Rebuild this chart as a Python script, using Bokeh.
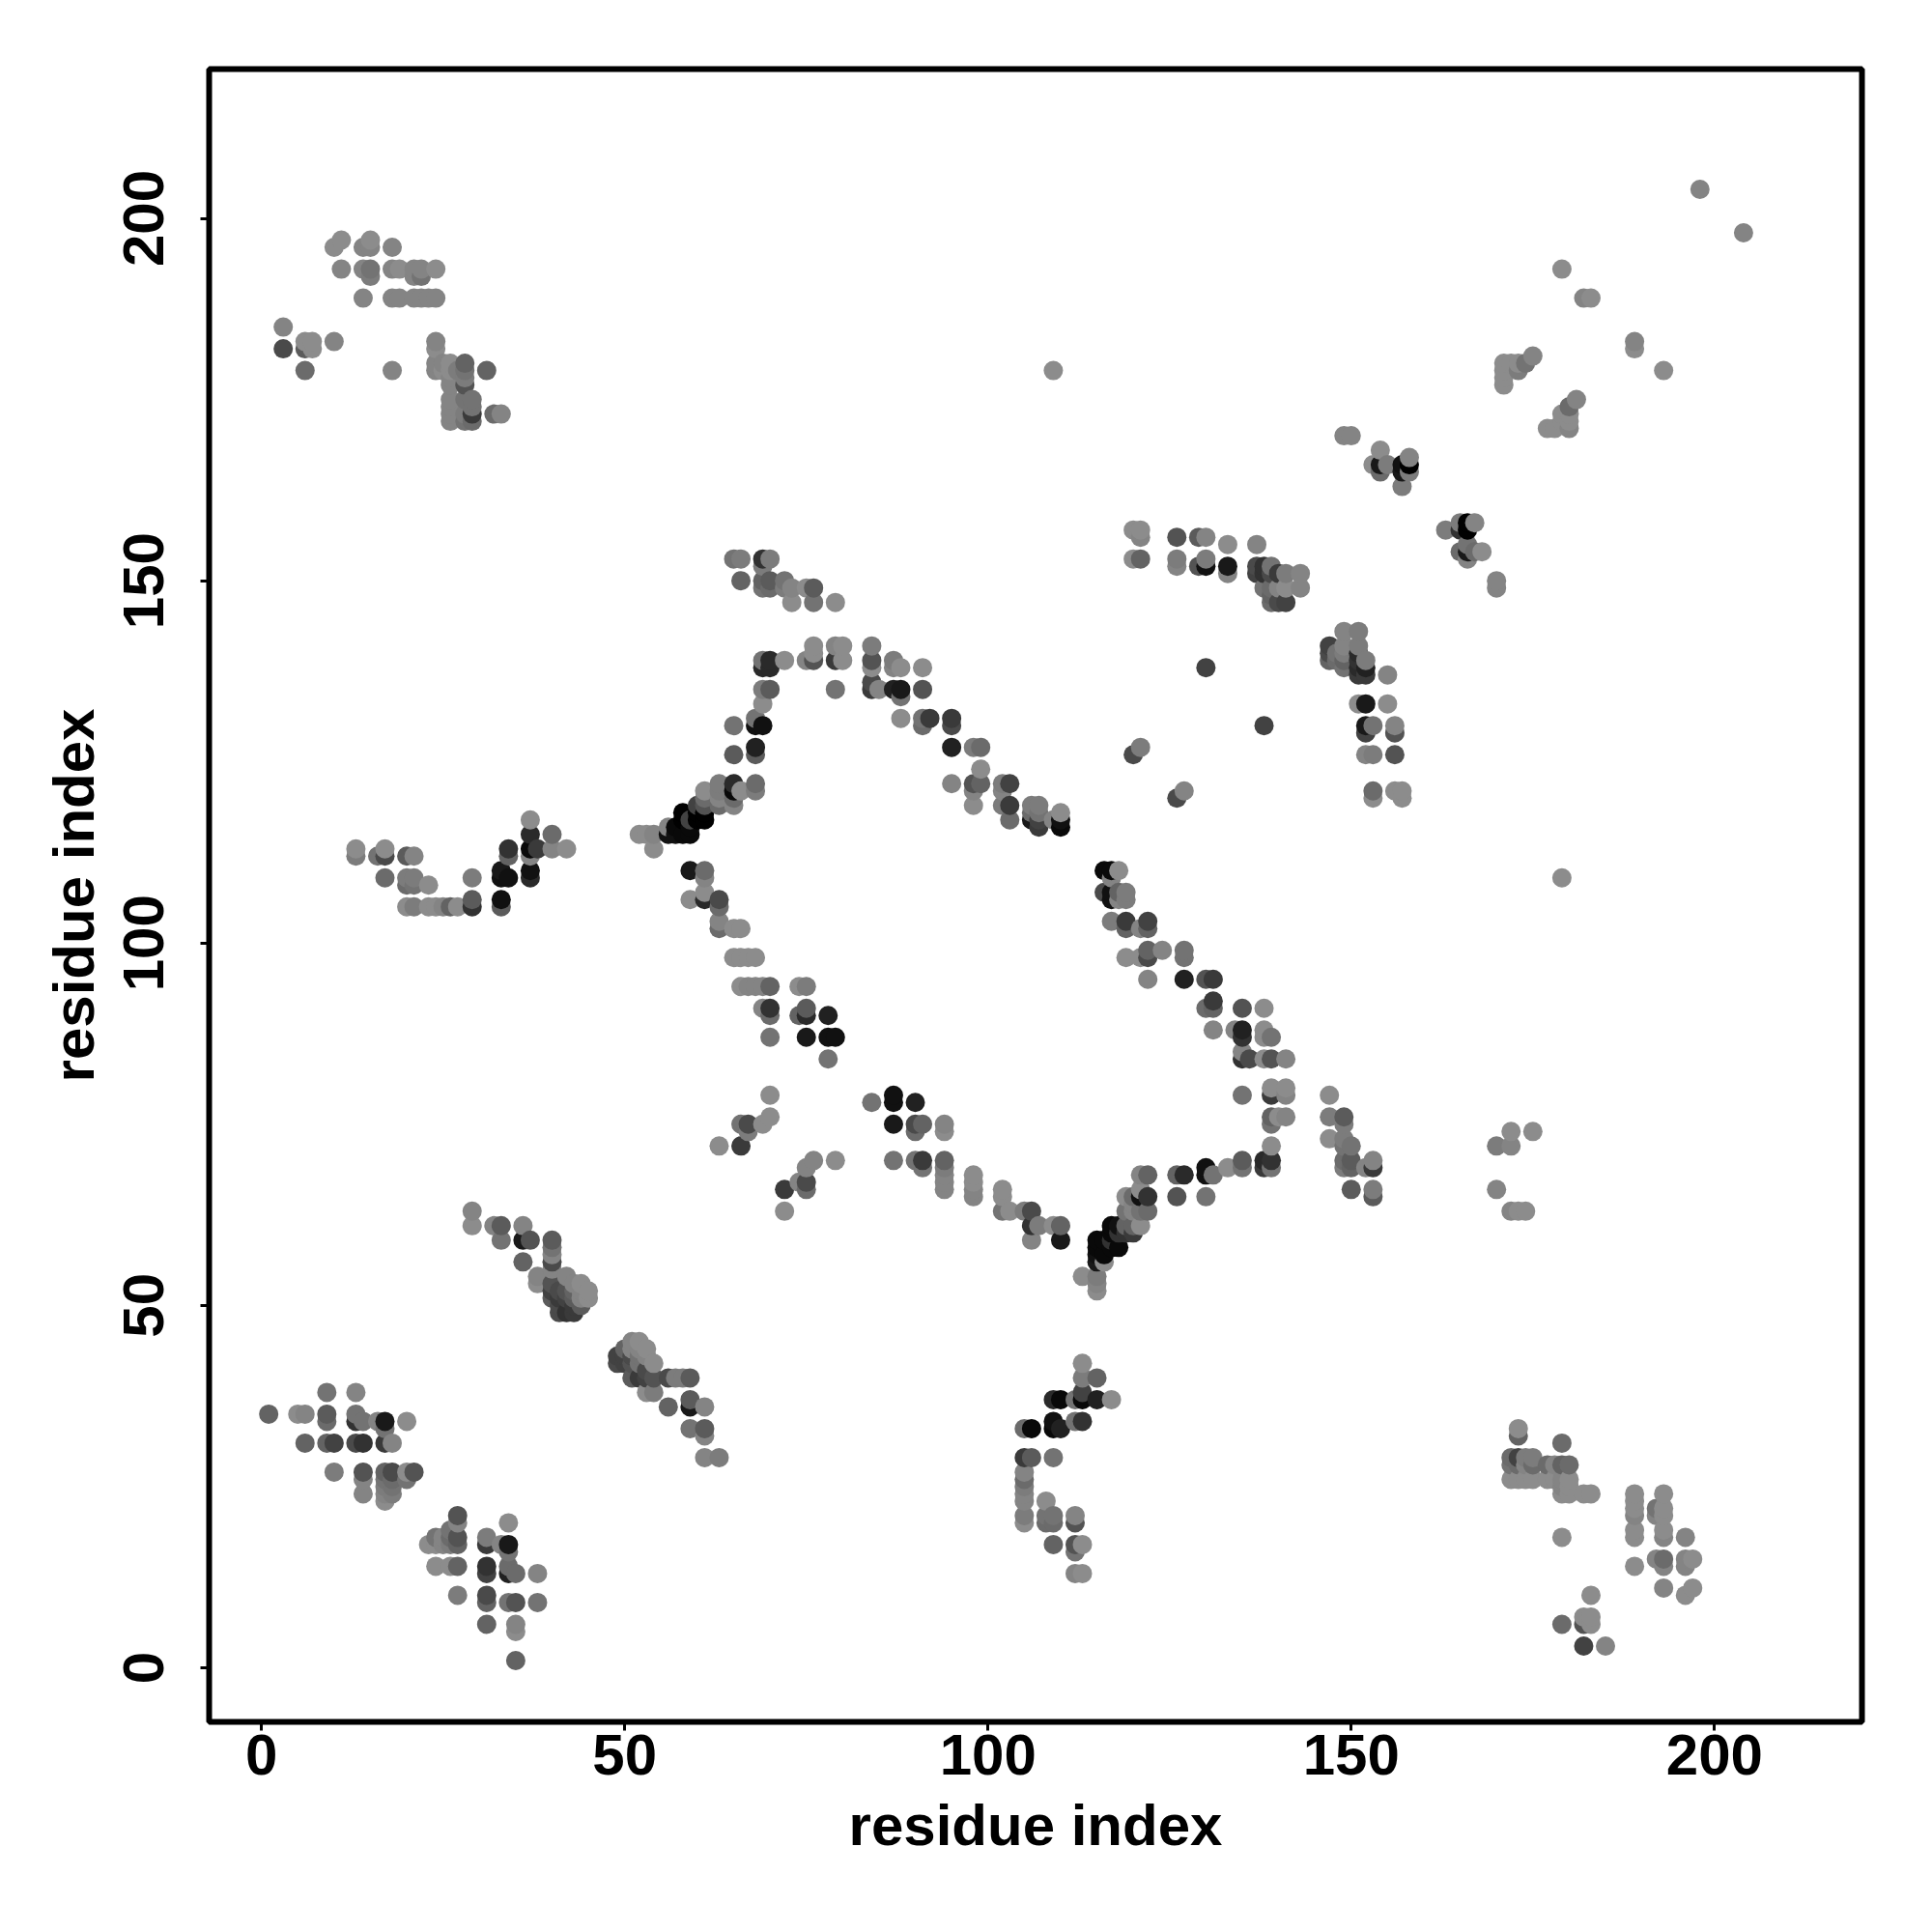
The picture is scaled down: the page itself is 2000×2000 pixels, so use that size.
from bokeh.plotting import figure
from bokeh.models import ColumnDataSource, FixedTicker
from bokeh.embed import file_html
from bokeh.resources import INLINE
import numpy as np

# contact map: residue i, residue j, contact strength level (0 weak .. 17 strong)
xa = [1,5,6,9,9,9,13,13,13,14,16,17,17,20,6,9,10,13,14,17,18,10,14,14,14,17,18,17,18,20,20,21,17,18,17,18,17]
ya = [35,35,35,38,35,34,38,35,34,34,34,34,33,34,31,31,31,31,31,31,31,27,27,26,24,27,27,26,26,27,26,27,25,25,24,24,23]
la = [5,0,1,3,6,4,1,3,11,3,1,14,3,0,5,5,9,8,11,10,1,2,7,1,1,5,8,3,4,0,3,7,2,3,1,2,0]

xb = [23,24,24,25,25,26,26,26,27,27,27,27,24,26,27,27,31,31,31,31,31,31,31,34,33,34,34,34,34,35,38,34,35,38,35,35,35]
yb = [17,18,17,18,17,19,18,17,21,20,18,17,14,14,14,10,18,17,14,13,10,9,6,20,17,17,16,14,13,13,13,9,9,9,6,5,1]
lb = [0,3,0,1,1,3,4,2,7,1,7,5,0,0,5,2,2,10,11,9,8,5,5,0,1,14,3,4,13,4,1,3,7,3,1,0,5]

xc = [29,29,32,33,33,36,36,37,36,40,40,40,40,40,40,40,40,38,38,42,43,44,45,45,44,43,42,43,42,43,41,41,44,42,41,43,44,41]
yc = [63,61,61,61,59,61,59,59,56,59,58,57,56,55,53,52,51,54,53,54,53,53,52,51,51,52,51,50,49,49,49,52,50,52,51,51,52,50]
lc = [1,0,1,6,3,1,14,7,5,6,3,1,8,1,7,9,6,1,0,1,1,0,0,0,1,5,9,10,11,10,8,8,6,7,10,6,1,8]

xd = [49,49,50,51,52,53,52,54,51,53,50,50,51,52,51,52,51,52,53,54,56,57,58,59,53,53,54,56,59,59,61,59,61,61,61,63]
yd = [43,42,44,45,45,44,44,42,44,43,43,42,42,42,43,43,40,40,40,40,40,40,40,40,41,38,38,36,37,36,36,33,33,32,29,29]
ld = [9,8,5,1,0,0,1,0,1,1,9,9,7,3,8,3,6,10,9,7,8,2,2,6,8,0,2,5,6,14,1,3,6,1,1,2]

xe = [70,70,69,67,66,67,63,66,72,72,75,75,74,75,76,79,84,87,87,90,87,90,90,91,94,94,87,90,91,91,94,94,94,94,94,98,98,98,98,102,102,102,103,105,106,106,107,106,109,110,110]
ye = [79,76,75,75,75,74,72,72,63,66,67,66,67,69,70,70,78,79,78,78,75,75,74,75,75,74,70,70,70,69,70,69,68,67,66,68,67,66,65,66,65,63,63,63,63,61,61,59,61,61,59]
le = [0,0,0,8,3,2,0,10,0,10,8,4,1,1,1,0,3,15,15,13,14,8,4,5,1,0,3,3,10,3,5,2,1,1,1,0,0,1,1,0,0,3,0,2,8,11,2,1,0,5,14]

xf = [113,115,115,115,115,115,115,115,116,116,116,117,117,117,117,118,118,118,119,120,121,120,119,122,121,120,119,120,119,120,122,121,121,121,122]
yf = [54,54,53,52,59,58,57,56,59,57,56,61,60,59,58,61,60,58,60,60,61,61,61,63,63,63,63,64,65,65,65,65,66,68,68]
lf = [0,2,1,0,16,16,15,14,16,16,0,16,16,11,16,15,11,16,11,10,0,5,5,4,3,1,3,1,0,4,11,15,0,1,5]

xg = [113,113,115,113,113,109,110,112,115,117,112,113,109,109,110,105,106,105,106,109,105,105,105,105,105,105,105,108,108,109,108,109,112,112,109,112,113,112,112,113]
yg = [42,40,40,38,37,37,37,37,37,37,34,34,34,33,33,33,33,29,29,29,27,26,25,24,23,21,20,23,21,21,20,20,21,20,17,17,17,16,13,13]
lg = [0,2,5,9,16,12,16,3,13,0,3,11,15,16,13,4,16,10,6,3,1,4,2,1,1,2,0,0,3,3,4,4,1,7,5,7,0,3,1,0]

xh = [173,173,172,172,172,173,173,173,174,174,174,175,175,175,177,177,178,178,179,179,180,179,180,179,180,179,180,182,183,179,189,189,189,189,189,189,189,193,192,192,193,193,193,193,196,192,193,193,196,196,197,193,196,197,183,179,182,183,182,183,182,185]
yh = [33,32,29,28,26,29,28,26,29,28,26,29,28,26,28,26,28,26,31,28,28,26,26,25,25,24,24,24,24,18,24,23,22,21,19,18,14,24,22,21,22,21,19,18,18,15,15,14,15,14,15,11,10,11,10,6,7,7,6,6,3,3]
lh = [0,5,4,3,0,9,4,0,2,1,0,2,4,0,4,0,1,0,4,5,4,1,0,1,0,0,0,0,0,0,0,0,0,1,0,0,0,0,3,1,0,0,0,1,1,1,4,1,1,1,0,1,0,0,0,4,0,0,7,0,9,1]

xi = [116,117,118,117,116,117,117,118,119,119,118,117,119,119,121,122,122,119,121,122,122,124,127,127,122,127,130,131,131,130,131,135,138,131,134,135,135,138,138,139,135,135,136,138,139,141,135,139,139,141,141,139,139,140,141,139]
yi = [110,110,110,109,107,107,106,107,107,106,106,103,103,102,102,103,102,98,98,99,98,99,99,98,95,95,95,95,92,91,91,91,91,88,88,88,87,88,87,87,85,84,84,84,84,84,79,80,79,80,79,76,75,76,76,72]
li = [16,16,0,1,8,15,15,5,2,2,1,2,10,5,1,9,5,0,0,5,8,1,3,3,1,13,7,10,10,4,5,7,0,1,1,13,11,0,0,3,1,11,8,0,7,1,3,0,10,0,1,5,3,0,1,0]

xj2 = [147,147,149,149,147,149,149,150,149,149,150,150,152,153,153,150,153,153,172,175,170,172,170,172,173,174,126,127,130,130,131,133,135,135,138,138,139,139,126,130]
yj2 = [79,76,76,75,73,73,72,72,70,69,70,69,69,70,69,66,66,65,74,74,72,72,66,63,63,63,68,68,69,68,68,69,70,69,70,69,70,69,65,65]
lj2 = [0,2,6,2,0,2,3,3,4,2,6,5,1,1,10,6,2,6,0,0,2,1,1,1,0,0,5,12,15,15,3,0,6,3,12,10,11,3,7,3]

xj = [13,13,16,17,17,20,21,17,20,21,20,21,23,20,21,23,24,25,26,27,29,29,29,33,33,34,34,34,33,33,37,37,37,37,37,37,38,40,40,42,52,53,54,54]
yj = [113,112,112,113,112,112,112,109,109,109,108,108,108,105,105,105,105,105,105,105,109,106,105,110,109,109,113,112,106,105,117,115,113,112,110,109,113,115,113,113,115,115,115,113]
lj = [0,2,3,0,8,6,1,4,2,2,4,3,0,0,2,0,0,1,5,0,2,6,11,14,15,15,11,5,15,6,0,12,16,1,15,12,10,4,1,0,0,0,1,0]

xk = [56,56,57,57,58,58,58,59,59,59,60,60,60,61,61,61,61,61,63,63,63,63,65,65,65,65,66,68,68]
yk = [116,115,116,115,118,117,115,116,115,117,119,118,117,119,118,117,121,120,122,121,120,119,122,121,120,119,121,122,121]
lk = [1,15,16,15,17,17,16,16,16,9,9,17,17,7,17,17,0,4,2,2,1,4,12,16,4,1,0,4,2]

xk2 = [59,61,61,59,61,61,63,63,63,63,65,66,65,66,67,68,66,67,68,69,70,74,75,69,70,70,70,74,75,75,75,78,78,79,78]
yk2 = [110,110,109,106,107,106,106,105,103,102,102,102,98,98,98,98,94,94,94,94,94,94,94,91,91,90,87,90,91,90,87,90,87,87,84]
lk2 = [14,4,1,0,0,12,8,4,1,4,0,0,0,0,0,0,0,1,1,1,5,0,2,1,11,4,3,5,6,12,14,13,15,15,3]

xl = [65,66,69,70,69,66,69,70,69,70,72,72,73,75,76,73,76,79,120,121,121,120,121]
yl = [153,153,153,153,152,150,150,150,149,149,150,149,149,149,149,147,147,147,157,157,156,153,153]
ll = [3,2,11,2,2,5,5,6,3,4,3,2,1,0,6,0,3,0,0,0,1,0,5]

xl2 = [76,79,80,84,69,70,72,75,76,76,79,80,84,84,87,87,88,91,69,70,69,70,79,84,84,85,87,88,88,91,69,68,68,69,65,68,68,65]
yl2 = [141,141,141,141,139,139,139,139,139,140,139,139,139,138,139,138,138,138,138,138,135,135,135,136,135,135,135,135,134,135,133,131,130,130,130,127,126,126]
ll2 = [0,1,0,2,3,12,0,1,7,0,10,0,7,0,2,1,0,0,12,12,2,6,3,8,10,1,13,14,3,7,0,3,15,15,3,13,6,6]

xl3 = [88,91,91,92,95,95,95,98,99,99,95,98,99,98,98,102,103,102,102,103,103,106,107,106,107,107,107,106,109,110,110,110]
yl3 = [131,131,130,131,131,130,127,127,127,124,122,122,122,121,119,122,122,121,119,119,117,119,119,117,118,117,116,118,117,118,117,116]
ll3 = [0,3,4,10,10,8,13,2,4,0,1,7,5,1,0,2,9,1,2,10,4,2,2,14,3,9,10,4,1,0,15,16]

xm = [126,129,130,133,137,126,126,129,130,130,133,133,137,137,138,138,139,139,138,139,140,141,143,140,141,143,139,140,141,139]
ym = [156,156,156,155,155,153,152,152,153,152,152,151,152,151,152,151,152,151,149,149,151,151,151,149,149,149,147,147,147,148]
lm = [7,6,1,0,1,2,1,7,2,15,14,1,8,9,11,11,3,8,3,4,10,2,1,1,0,1,4,8,9,5]

xm2 = [130,138,120,121,126,127,153,153,156,157,157,152,153,156,152,152,153,156,156,151,152,155,155]
ym2 = [138,130,126,127,120,121,121,120,121,121,120,126,126,126,130,129,130,130,129,133,133,133,137]
lm2 = [9,9,8,2,8,1,4,0,0,0,0,1,2,7,14,9,3,1,7,0,14,0,1]

xm3 = [149,151,151,149,147,147,147,149,149,149,148,148,151,151,151,151,152,152,152]
ym3 = [143,143,141,141,141,140,139,140,139,138,140,139,140,139,138,137,139,138,137]
lm3 = [1,2,2,1,9,8,5,2,5,3,3,4,12,11,12,10,2,13,10]

xn = [163,165,165,166,166,167,165,166,166,166,167,168,170,170,154,153,154,154,155,157,157,158,158,158,157,149,150]
yn = [157,158,157,158,157,158,154,155,154,153,154,154,150,149,168,166,166,165,166,166,165,167,165,166,163,170,170]
ln = [2,2,11,17,17,1,4,3,14,1,4,0,1,1,0,0,14,4,2,15,14,1,2,17,2,1,1]

xn2 = [198,204,179,182,183,189,189,193,109,179,171,172,173,171,173,171,171,174,175,181,180,179,180,177,178,180,179,180]
yn2 = [204,198,193,189,189,183,182,179,179,109,180,180,180,179,179,177,178,180,181,175,174,173,173,171,171,171,172,172]
ln2 = [1,1,0,1,0,1,0,0,0,0,0,0,0,0,2,0,0,3,1,1,4,0,0,0,0,1,0,0]

xo = [11,10,14,15,15,18,11,14,15,15,18,19,21,22,21,22,24,14,18,19,21,22,23,24,3,3,6,7,6,7,10,6,18]
yo = [197,196,196,197,196,196,193,193,193,192,193,193,193,193,192,192,193,189,189,189,189,189,189,189,185,182,183,183,182,182,183,179,179]
lo = [0,0,1,0,1,1,1,1,3,2,1,0,1,1,1,3,0,1,1,1,1,1,1,1,1,8,0,0,6,0,1,4,1]

xo2 = [24,24,24,24,25,26,25,26,26,26,26,26,26,26,28,28,27,28,28,28,28,28,29,29,29,29,31,32,33]
yo2 = [183,182,180,179,180,180,179,179,178,177,175,174,173,172,180,179,179,178,177,175,173,172,175,174,173,172,179,173,173]
lo2 = [1,0,1,1,1,0,0,0,1,1,1,1,1,1,5,3,2,2,7,3,2,3,3,3,10,4,5,4,1]

tick_values = [0, 50, 100, 150, 200]
axis_title = "residue index"

x = np.array(xa+xb+xc+xd+xe+xf+xg+xh+xi+xj2+xj+xk+xk2+xl+xl2+xl3+xm+xm2+xm3+xn+xn2+xo+xo2)
y = np.array(ya+yb+yc+yd+ye+yf+yg+yh+yi+yj2+yj+yk+yk2+yl+yl2+yl3+ym+ym2+ym3+yn+yn2+yo+yo2)
l = np.array(la+lb+lc+ld+le+lf+lg+lh+li+lj2+lj+lk+lk2+ll+ll2+ll3+lm+lm2+lm3+ln+ln2+lo+lo2)

order = np.lexsort((y, x))
x, y, l = x[order], y[order], l[order]
grey = np.clip(np.round(140 - 8.2 * l), 0, 255).astype(int)
colors = ["#%02x%02x%02x" % (g, g, g) for g in grey]
src = ColumnDataSource(dict(x=x, y=y, c=colors))

p = figure(frame_width=1711, frame_height=1711, output_backend="svg", toolbar_location=None,
           x_range=(-7.2, 220.3), y_range=(-7.47, 220.6),
           min_border_left=216, min_border_right=40, min_border_top=71, min_border_bottom=185)
p.scatter("x", "y", source=src, size=20, fill_color="c", line_color=None, marker="circle")

p.grid.visible = False
p.background_fill_color = "white"
p.border_fill_color = "white"
p.outline_line_color = "black"
p.outline_line_width = 6

for ax in (p.xaxis[0], p.yaxis[0]):
    ax.ticker = FixedTicker(ticks=tick_values)
    ax.axis_line_color = None
    ax.minor_tick_line_color = None
    ax.major_tick_in = 0
    ax.major_tick_out = 9
    ax.major_tick_line_width = 3
    ax.major_tick_line_color = "black"
    ax.axis_label = axis_title
    ax.axis_label_text_font = "Liberation Sans"
    ax.axis_label_text_font_style = "bold"
    ax.axis_label_text_font_size = "60px"
    ax.axis_label_text_color = "black"
    ax.major_label_text_font = "Liberation Sans"
    ax.major_label_text_font_style = "bold"
    ax.major_label_text_font_size = "60px"
    ax.major_label_text_color = "black"

p.xaxis[0].major_label_standoff = 4
p.xaxis[0].axis_label_standoff = 16
p.yaxis[0].major_label_orientation = "vertical"
p.yaxis[0].major_label_standoff = 38
p.yaxis[0].axis_label_standoff = 16

open("out.html", "w").write(file_html(p, INLINE))
